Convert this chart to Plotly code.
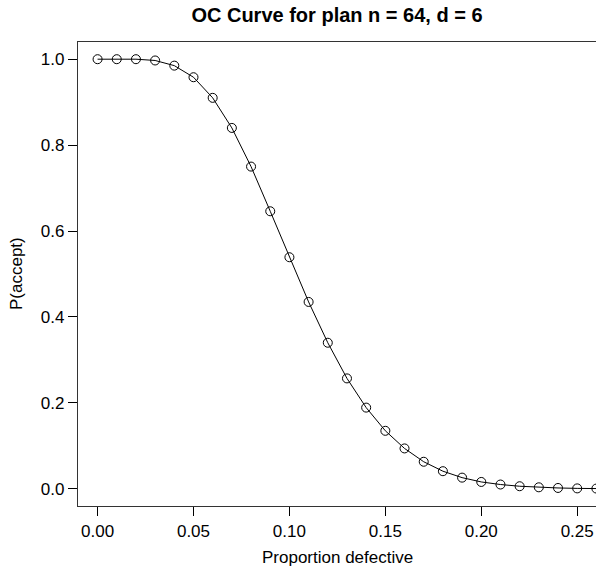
import plotly.graph_objects as go

# Proportion defective (x) and probability of acceptance (y)
proportion_defective = [0.00, 0.01, 0.02, 0.03, 0.04, 0.05, 0.06, 0.07, 0.08, 0.09,
                        0.10, 0.11, 0.12, 0.13, 0.14, 0.15, 0.16, 0.17, 0.18, 0.19,
                        0.20, 0.21, 0.22, 0.23, 0.24, 0.25, 0.26]
p_accept = [1.000, 1.000, 1.000, 0.997, 0.985, 0.958, 0.910, 0.840, 0.750, 0.646,
            0.539, 0.435, 0.340, 0.257, 0.189, 0.135, 0.094, 0.063, 0.041, 0.026,
            0.016, 0.010, 0.006, 0.0035, 0.002, 0.001, 0.0006]

x_ticks = [0.00, 0.05, 0.10, 0.15, 0.20, 0.25]
x_tick_labels = ["0.00", "0.05", "0.10", "0.15", "0.20", "0.25"]
y_ticks = [0.0, 0.2, 0.4, 0.6, 0.8, 1.0]
y_tick_labels = ["0.0", "0.2", "0.4", "0.6", "0.8", "1.0"]

title_text = "OC Curve for plan n = 64, d = 6"
x_label = "Proportion defective"
y_label = "P(accept)"

FONT = "Liberation Sans, Arial, Helvetica, sans-serif"

fig = go.Figure()
fig.add_trace(go.Scatter(
    x=proportion_defective, y=p_accept,
    mode="lines+markers",
    line=dict(color="black", width=1),
    marker=dict(symbol="circle-open", size=9, color="black", line=dict(width=1)),
    showlegend=False,
))

fig.update_layout(
    width=596, height=566,
    margin=dict(l=78, r=0, t=42, b=60),
    plot_bgcolor="white", paper_bgcolor="white",
    font=dict(family=FONT, size=17, color="black"),
    title=dict(text="<b>" + title_text + "</b>", x=0.5, xref="paper",
               y=1 - 15 / 566, yref="container", yanchor="middle", xanchor="center",
               font=dict(family=FONT, size=20, color="black")),
    xaxis=dict(range=[-0.0102, 0.2598], tickvals=x_ticks, ticktext=x_tick_labels,
               ticks="outside", ticklen=9, tickwidth=1, tickcolor="black",
               showline=True, linecolor="#333", linewidth=1.3, mirror=True,
               showgrid=False, zeroline=False,
               tickfont=dict(size=17)),
    yaxis=dict(range=[-0.04, 1.04], tickvals=y_ticks, ticktext=y_tick_labels,
               ticks="outside", ticklen=9, tickwidth=1, tickcolor="black",
               showline=True, linecolor="#333", linewidth=1.3,
               showgrid=False, zeroline=False,
               tickfont=dict(size=17)),
)

fig.add_annotation(text=x_label, xref="paper", yref="paper", x=0.5, y=0,
                   yshift=-51, showarrow=False, yanchor="middle",
                   font=dict(family=FONT, size=17, color="black"))
fig.add_annotation(text=y_label, xref="paper", yref="paper", x=0, y=0.5,
                   xshift=-62, showarrow=False, textangle=-90, xanchor="center",
                   font=dict(family=FONT, size=17, color="black"))

fig.write_html("out.html",
               config={"displayModeBar": False},
               post_script="document.body.style.margin='0';document.body.style.overflow='hidden';")
